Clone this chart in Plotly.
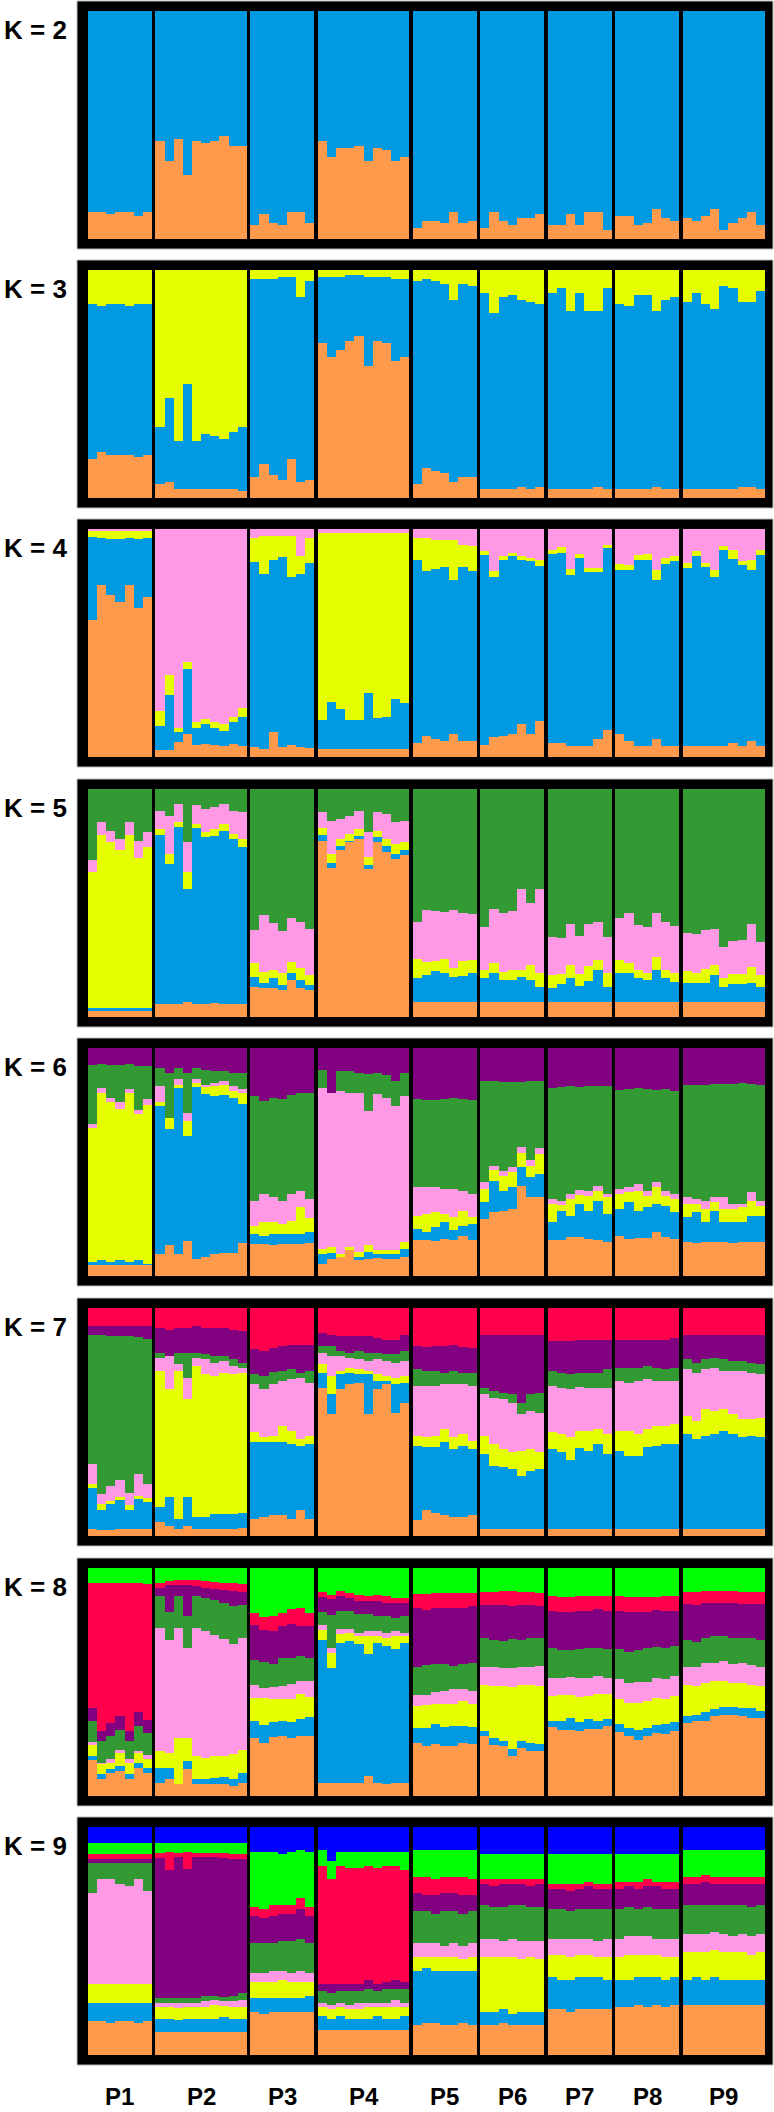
import plotly.graph_objects as go

# ---------------- data ----------------
POPS = ["P1", "P2", "P3", "P4", "P5", "P6", "P7", "P8", "P9"]
N_IND = [7, 10, 7, 10, 7, 7, 7, 7, 9]
K_LABELS = ["K = 2", "K = 3", "K = 4", "K = 5", "K = 6", "K = 7", "K = 8", "K = 9"]

COLORS = {
    "orange": "#FF9A4D", "blue": "#0099E2", "yellow": "#E6FF00", "pink": "#FF99E6",
    "green": "#339933", "purple": "#800080", "red": "#FF004D", "lime": "#00FF00",
    "dblue": "#0000FF",
}

# cluster order listed top -> bottom of each bar
ORDER = {
    2: ["blue", "orange"],
    3: ["yellow", "blue", "orange"],
    4: ["pink", "yellow", "blue", "orange"],
    5: ["green", "pink", "yellow", "blue", "orange"],
    6: ["purple", "green", "pink", "yellow", "blue", "orange"],
    7: ["red", "purple", "green", "pink", "yellow", "blue", "orange"],
    8: ["lime", "red", "purple", "green", "pink", "yellow", "blue", "orange"],
    9: ["dblue", "lime", "red", "purple", "green", "pink", "yellow", "blue", "orange"],
}

# membership estimates per individual (rows follow ORDER; each row is normalised)
K2 = [
    [88, 12], [88, 12], [89, 11], [88, 12], [88, 12], [90, 10], [88, 12],
    [57, 43], [66, 34], [56, 44], [72, 28], [57, 43], [58, 42], [57, 43], [55, 45], [59, 41], [59, 41],
    [94, 6], [89, 11], [93, 7], [94, 6], [88, 12], [88, 12], [93, 7],
    [57, 43], [64, 36], [60, 40], [60, 40], [59, 41], [66, 34], [60, 40], [61, 39], [66, 34], [64, 36],
    [95, 5], [92, 8], [92, 8], [93, 7], [88, 12], [93, 7], [92, 8],
    [95, 5], [88, 12], [92, 8], [94, 6], [91, 9], [91, 9], [89, 11],
    [94, 6], [94, 6], [89, 11], [94, 6], [88, 12], [88, 12], [96, 4],
    [90, 10], [90, 10], [94, 6], [93, 7], [87, 13], [91, 9], [92, 8],
    [91, 9], [92, 8], [90, 10], [87, 13], [96, 4], [93, 7], [91, 9], [88, 12], [94, 6],
]
K3 = [
    [15, 68, 17], [16, 64, 20], [15, 66, 19], [15, 66, 19], [16, 65, 19], [15, 67, 18], [15, 66, 19],
    [69, 25, 6], [56, 37, 7], [75, 21, 4], [50, 46, 4], [75, 21, 4], [72, 24, 4], [73, 23, 4], [74, 22, 4], [71, 25, 4], [69, 28, 3],
    [4, 87, 9], [4, 81, 15], [4, 86, 10], [3, 89, 8], [3, 80, 17], [12, 81, 7], [5, 87, 8],
    [3, 29, 68], [3, 35, 62], [3, 32, 65], [2, 29, 69], [2, 27, 71], [3, 39, 58], [3, 28, 69], [3, 29, 68], [4, 36, 60], [4, 34, 62],
    [5, 89, 6], [4, 83, 13], [5, 83, 12], [6, 83, 11], [13, 80, 7], [6, 85, 9], [7, 84, 9],
    [10, 86, 4], [19, 77, 4], [12, 84, 4], [11, 85, 4], [13, 82, 5], [14, 82, 4], [15, 80, 5],
    [10, 86, 4], [8, 88, 4], [18, 78, 4], [10, 86, 4], [18, 78, 4], [18, 77, 5], [8, 88, 4],
    [15, 81, 4], [16, 80, 4], [11, 85, 4], [11, 85, 4], [18, 77, 5], [13, 83, 4], [12, 84, 4],
    [14, 82, 4], [10, 86, 4], [15, 81, 4], [17, 79, 4], [7, 89, 4], [8, 88, 4], [14, 81, 5], [14, 81, 5], [9, 87, 4],
]
K4 = [
    [7, 18, 250, 411], [7, 20, 140, 519], [7, 22, 171, 486], [7, 22, 190, 467], [7, 20, 140, 519], [7, 24, 206, 449], [7, 20, 178, 481],
    [547, 45, 72, 22], [440, 60, 165, 21], [600, 12, 30, 44], [400, 22, 195, 69], [582, 18, 50, 36], [572, 15, 60, 39], [580, 20, 50, 36], [587, 20, 45, 34], [565, 17, 65, 39], [539, 28, 85, 34],
    [27, 73, 556, 30], [22, 113, 526, 25], [22, 72, 518, 74], [22, 63, 571, 30], [22, 123, 506, 35], [82, 53, 521, 30], [27, 75, 556, 28],
    [12, 563, 86, 25], [12, 507, 142, 25], [12, 530, 119, 25], [12, 563, 86, 25], [12, 563, 86, 25], [12, 482, 167, 25], [12, 558, 91, 25], [12, 555, 94, 25], [12, 500, 149, 25], [12, 512, 137, 25],
    [27, 65, 553, 41], [27, 98, 499, 62], [32, 87, 512, 55], [32, 82, 524, 48], [32, 120, 465, 69], [47, 67, 524, 48], [52, 75, 511, 48],
    [67, 10, 574, 35], [127, 17, 483, 59], [82, 12, 528, 64], [72, 10, 535, 69], [80, 12, 495, 99], [87, 10, 520, 69], [92, 18, 467, 109],
    [62, 12, 571, 41], [54, 18, 573, 41], [120, 17, 515, 34], [75, 12, 565, 34], [117, 13, 522, 34], [117, 13, 501, 55], [47, 10, 547, 82],
    [104, 18, 495, 69], [107, 15, 516, 48], [77, 15, 560, 34], [75, 17, 560, 34], [122, 30, 479, 55], [87, 17, 548, 34], [82, 15, 555, 34],
    [102, 15, 535, 34], [65, 17, 570, 34], [102, 12, 538, 34], [122, 22, 508, 34], [52, 12, 588, 34], [62, 27, 556, 41], [95, 12, 545, 34], [94, 28, 516, 48], [62, 15, 575, 34],
]
K5 = [
    [215, 35, 409, 10, 17], [100, 37, 522, 10, 17], [127, 33, 499, 10, 17], [150, 35, 474, 10, 17], [100, 38, 521, 10, 17], [155, 52, 452, 10, 17], [130, 43, 486, 10, 17],
    [65, 55, 17, 509, 40], [80, 115, 32, 419, 40], [45, 55, 13, 533, 40], [160, 90, 52, 339, 45], [48, 57, 12, 531, 38], [60, 70, 15, 501, 40], [55, 65, 20, 504, 42], [45, 60, 20, 521, 40], [65, 70, 15, 496, 40], [70, 80, 25, 473, 38],
    [423, 100, 44, 28, 91], [380, 170, 35, 15, 86], [403, 142, 25, 30, 86], [427, 128, 35, 15, 81], [387, 133, 35, 20, 111], [400, 138, 37, 25, 86], [420, 140, 30, 15, 81],
    [70, 47, 21, 17, 531], [95, 100, 28, 15, 448], [90, 60, 20, 15, 501], [80, 55, 20, 5, 526], [65, 55, 20, 10, 536], [130, 75, 25, 10, 446], [70, 55, 20, 15, 526], [75, 75, 20, 20, 496], [100, 65, 30, 15, 476], [95, 65, 25, 15, 486],
    [400, 110, 60, 71, 45], [365, 155, 40, 81, 45], [367, 150, 30, 94, 45], [370, 140, 45, 86, 45], [365, 175, 25, 76, 45], [373, 145, 45, 78, 45], [375, 140, 40, 86, 45],
    [415, 130, 25, 71, 45], [360, 165, 30, 86, 45], [373, 177, 25, 66, 45], [367, 178, 30, 66, 45], [300, 245, 20, 76, 45], [342, 188, 45, 66, 45], [300, 255, 40, 46, 45],
    [445, 115, 40, 41, 45], [447, 110, 30, 54, 45], [405, 125, 40, 71, 45], [443, 115, 35, 48, 45], [407, 125, 45, 64, 45], [400, 115, 30, 96, 45], [445, 110, 40, 46, 45],
    [387, 128, 40, 86, 45], [373, 152, 30, 86, 45], [410, 135, 25, 71, 45], [415, 140, 20, 66, 45], [373, 132, 40, 96, 45], [400, 145, 25, 71, 45], [413, 142, 25, 61, 45],
    [433, 115, 35, 58, 45], [435, 120, 30, 56, 45], [423, 120, 40, 58, 45], [420, 110, 30, 81, 45], [475, 95, 25, 46, 45], [458, 100, 30, 53, 45], [453, 105, 30, 53, 45], [405, 130, 50, 56, 45], [460, 100, 35, 46, 45],
]
K6 = [
    [50, 180, 12, 403, 10, 32], [48, 74, 13, 505, 15, 32], [50, 100, 12, 483, 10, 32], [50, 112, 23, 455, 15, 32], [48, 77, 12, 508, 10, 32], [53, 134, 13, 440, 15, 32], [55, 100, 17, 478, 5, 32],
    [60, 55, 47, 12, 447, 65], [75, 135, 0, 35, 350, 92], [60, 33, 17, 10, 502, 65], [75, 120, 25, 45, 317, 105], [60, 33, 12, 13, 519, 50], [65, 45, 8, 22, 490, 57], [70, 35, 10, 30, 477, 65], [70, 30, 12, 30, 476, 69], [75, 40, 15, 20, 468, 69], [75, 50, 10, 35, 417, 100],
    [145, 317, 73, 25, 30, 97], [160, 280, 85, 40, 25, 97], [150, 298, 77, 35, 33, 94], [155, 305, 70, 30, 30, 97], [143, 297, 80, 40, 30, 97], [135, 295, 48, 82, 30, 97], [135, 320, 57, 43, 32, 100],
    [65, 55, 485, 15, 30, 37], [135, 0, 465, 18, 17, 52], [68, 62, 490, 10, 0, 57], [70, 65, 465, 10, 0, 77], [75, 60, 480, 15, 10, 47], [78, 112, 405, 20, 20, 52], [75, 65, 470, 12, 10, 55], [80, 70, 460, 10, 15, 52], [98, 77, 435, 12, 13, 52], [75, 70, 440, 20, 25, 57],
    [155, 265, 85, 40, 35, 107], [157, 263, 80, 55, 25, 107], [158, 262, 75, 45, 43, 104], [155, 270, 75, 25, 52, 110], [150, 275, 85, 38, 32, 107], [155, 275, 60, 45, 30, 122], [157, 283, 70, 20, 50, 107],
    [98, 307, 20, 40, 50, 172], [100, 255, 13, 32, 95, 192], [102, 268, 17, 43, 60, 197], [102, 258, 15, 45, 65, 202], [102, 196, 17, 45, 55, 272], [100, 238, 17, 35, 60, 237], [100, 200, 20, 60, 70, 237],
    [120, 335, 15, 55, 55, 107], [118, 342, 12, 20, 88, 107], [115, 325, 15, 50, 65, 117], [117, 310, 15, 28, 100, 117], [115, 315, 15, 45, 85, 112], [113, 302, 15, 30, 120, 107], [115, 325, 10, 50, 85, 102],
    [128, 297, 15, 45, 82, 120], [125, 295, 15, 30, 110, 112], [122, 288, 20, 60, 82, 115], [125, 305, 15, 35, 92, 115], [128, 277, 15, 50, 85, 132], [125, 305, 15, 30, 95, 117], [130, 310, 15, 40, 80, 112],
    [112, 338, 20, 40, 75, 102], [110, 345, 15, 25, 92, 100], [110, 350, 25, 40, 60, 102], [108, 342, 15, 25, 95, 102], [108, 342, 35, 40, 60, 102], [107, 363, 15, 40, 62, 100], [105, 365, 10, 45, 60, 102], [107, 328, 25, 45, 80, 102], [110, 350, 15, 30, 80, 102],
]
K7 = [
    [55, 27, 388, 60, 13, 122, 22], [55, 25, 480, 30, 20, 60, 17], [55, 30, 450, 48, 7, 80, 17], [55, 30, 432, 53, 10, 85, 22], [55, 30, 472, 38, 15, 55, 22], [55, 33, 412, 65, 10, 90, 22], [55, 38, 437, 43, 12, 80, 22],
    [60, 75, 15, 40, 410, 45, 42], [65, 80, 0, 100, 325, 87, 30], [60, 75, 35, 20, 445, 30, 22], [60, 75, 75, 65, 295, 87, 30], [55, 80, 15, 25, 455, 35, 22], [60, 80, 15, 45, 430, 35, 22], [60, 85, 20, 40, 415, 45, 22], [60, 85, 15, 35, 425, 45, 22], [65, 90, 20, 25, 420, 45, 22], [70, 95, 15, 15, 422, 46, 24],
    [125, 75, 30, 145, 30, 230, 52], [130, 75, 40, 145, 15, 225, 57], [120, 73, 37, 155, 20, 220, 62], [115, 75, 30, 135, 50, 220, 62], [110, 75, 30, 155, 40, 225, 52], [110, 85, 15, 185, 20, 195, 77], [110, 80, 35, 160, 25, 225, 52],
    [75, 40, 20, 35, 25, 45, 447], [80, 35, 30, 60, 55, 60, 367], [85, 45, 15, 45, 10, 45, 442], [85, 50, 15, 30, 15, 35, 457], [85, 45, 25, 30, 15, 25, 462], [85, 50, 25, 30, 10, 120, 367], [90, 45, 20, 45, 20, 25, 442], [95, 45, 20, 45, 15, 10, 457], [95, 45, 25, 45, 20, 85, 372], [80, 50, 30, 45, 20, 60, 402],
    [115, 70, 50, 150, 30, 225, 47], [117, 73, 45, 155, 30, 190, 77], [115, 75, 45, 150, 35, 197, 70], [113, 82, 35, 135, 40, 220, 62], [110, 80, 40, 160, 35, 205, 57], [117, 78, 35, 150, 35, 215, 57], [120, 75, 40, 165, 25, 200, 62],
    [80, 160, 20, 125, 55, 225, 22], [80, 170, 20, 140, 65, 190, 22], [80, 175, 20, 150, 55, 185, 22], [80, 180, 25, 150, 50, 180, 22], [80, 205, 35, 110, 75, 160, 22], [80, 180, 50, 115, 65, 175, 22], [80, 175, 60, 120, 50, 180, 22],
    [100, 90, 45, 140, 50, 240, 22], [100, 95, 45, 140, 55, 230, 22], [98, 100, 45, 145, 70, 207, 22], [97, 100, 40, 135, 50, 243, 22], [95, 100, 45, 130, 60, 235, 22], [95, 100, 45, 125, 45, 255, 22], [95, 90, 55, 140, 60, 225, 22],
    [95, 85, 40, 150, 60, 235, 22], [95, 85, 45, 145, 75, 220, 22], [95, 85, 40, 160, 65, 220, 22], [95, 80, 40, 150, 55, 245, 22], [95, 85, 40, 135, 60, 250, 22], [95, 90, 35, 135, 55, 255, 22], [90, 90, 40, 130, 60, 255, 22],
    [80, 75, 30, 140, 55, 285, 22], [80, 85, 30, 145, 55, 270, 22], [80, 75, 30, 120, 80, 280, 22], [80, 70, 30, 130, 70, 285, 22], [80, 75, 35, 115, 65, 295, 22], [80, 80, 30, 130, 60, 285, 22], [80, 80, 30, 145, 55, 275, 22], [80, 85, 30, 140, 50, 280, 22], [80, 90, 30, 130, 60, 275, 22],
]
K8 = [
    [44, 378, 40, 63, 7, 33, 14, 108], [44, 448, 30, 65, 5, 30, 15, 50], [44, 423, 40, 70, 10, 20, 12, 68], [44, 403, 40, 60, 10, 40, 15, 75], [44, 448, 30, 55, 10, 35, 13, 52], [44, 391, 42, 75, 5, 30, 15, 85], [47, 410, 40, 65, 15, 25, 15, 70],
    [44, 15, 25, 98, 370, 50, 45, 40], [40, 10, 82, 85, 340, 45, 35, 50], [35, 15, 35, 97, 330, 140, 0, 35], [35, 15, 95, 97, 270, 70, 25, 80], [35, 20, 30, 97, 385, 70, 15, 35], [40, 20, 30, 100, 382, 65, 15, 35], [42, 20, 35, 105, 365, 65, 20, 35], [45, 20, 40, 110, 350, 65, 22, 35], [45, 25, 45, 115, 330, 75, 22, 30], [47, 25, 40, 100, 335, 72, 28, 40],
    [137, 35, 105, 75, 40, 70, 50, 175], [147, 40, 95, 80, 30, 80, 55, 160], [145, 45, 100, 70, 35, 70, 45, 177], [135, 40, 95, 85, 40, 65, 45, 182], [125, 45, 100, 80, 45, 70, 47, 175], [120, 55, 90, 75, 40, 75, 50, 182], [135, 40, 95, 70, 50, 60, 55, 182],
    [72, 15, 45, 40, 15, 30, 430, 40], [80, 12, 50, 100, 15, 45, 345, 40], [70, 15, 45, 55, 15, 25, 422, 40], [75, 15, 40, 55, 10, 25, 427, 40], [80, 20, 40, 55, 10, 25, 417, 40], [85, 15, 40, 50, 15, 55, 367, 60], [80, 20, 45, 45, 15, 20, 422, 40], [85, 20, 40, 50, 15, 25, 417, 35], [90, 15, 45, 40, 15, 40, 402, 40], [90, 15, 40, 50, 10, 20, 422, 40],
    [77, 45, 175, 85, 35, 65, 45, 160], [77, 50, 165, 90, 30, 70, 55, 150], [75, 45, 170, 85, 35, 60, 60, 157], [75, 45, 170, 80, 40, 70, 55, 152], [75, 45, 175, 70, 45, 65, 60, 152], [75, 45, 170, 75, 35, 75, 52, 160], [75, 40, 170, 85, 40, 70, 50, 157],
    [72, 40, 100, 85, 55, 140, 15, 180], [72, 40, 105, 80, 60, 155, 20, 155], [70, 42, 108, 80, 55, 165, 15, 152], [70, 45, 100, 85, 60, 185, 20, 122], [72, 40, 105, 80, 55, 170, 20, 145], [72, 40, 100, 85, 55, 175, 25, 135], [75, 40, 95, 85, 60, 175, 20, 137],
    [85, 45, 110, 90, 55, 75, 20, 207], [87, 45, 115, 85, 50, 80, 25, 200], [87, 45, 115, 80, 55, 70, 35, 200], [85, 45, 115, 85, 60, 75, 25, 197], [85, 45, 110, 90, 55, 70, 30, 202], [85, 40, 115, 85, 55, 80, 25, 202], [85, 45, 115, 85, 50, 75, 20, 212],
    [85, 45, 115, 90, 60, 75, 25, 192], [87, 45, 120, 95, 60, 75, 25, 180], [87, 45, 115, 95, 65, 80, 30, 170], [87, 45, 110, 100, 60, 80, 25, 180], [87, 40, 110, 95, 60, 80, 25, 190], [85, 45, 110, 95, 60, 75, 30, 187], [85, 45, 105, 90, 60, 80, 25, 197],
    [72, 35, 110, 80, 55, 95, 20, 220], [72, 40, 110, 75, 60, 85, 20, 225], [70, 35, 105, 75, 60, 90, 25, 227], [70, 35, 100, 80, 55, 85, 22, 240], [70, 35, 100, 75, 60, 80, 22, 245], [70, 35, 105, 80, 55, 75, 22, 245], [72, 35, 105, 75, 60, 75, 25, 240], [72, 35, 105, 80, 60, 70, 30, 235], [72, 35, 110, 80, 60, 75, 20, 235],
]
K9 = [
    [7, 5, 2, 2, 13, 40, 8, 8, 15], [7, 5, 2, 2, 7, 46, 8, 8, 15], [7, 5, 2, 2, 7, 46, 8, 9, 14], [7, 5, 2, 2, 9, 44, 8, 8, 15], [7, 5, 2, 2, 10, 43, 8, 8, 15], [7, 5, 2, 2, 7, 46, 8, 9, 14], [7, 5, 2, 2, 12, 41, 8, 8, 15],
    [7, 4.5, 2, 61.5, 2, 2, 5, 6, 10], [7, 4, 8, 56, 2, 2, 5, 6, 10], [7, 4.5, 1.5, 62, 2, 2.5, 5, 5.5, 10], [7, 4, 7.5, 56.5, 2, 2, 5, 6, 10], [7, 4.5, 1.5, 62, 2, 2, 5, 6, 10], [7, 4.5, 1.5, 61, 2.5, 2.5, 5, 6, 10], [7, 4.5, 1.5, 61, 2, 2, 6, 6, 10], [7, 4.5, 2, 61, 2, 2, 5, 6.5, 10], [7, 5, 2, 60, 2.5, 2.5, 5, 6, 10], [7, 5, 2, 59, 3, 3, 5, 6, 10],
    [11, 24, 4, 12, 13, 4, 7, 6, 19], [11, 25, 4, 11, 13, 4, 7, 7, 18], [11, 23, 5, 12, 12, 5, 7, 6, 19], [12, 22, 4, 12, 13, 4, 8, 6, 19], [11, 23, 4, 12, 14, 4, 7, 6, 19], [10, 21, 5, 13, 14, 5, 7, 6, 19], [11, 24, 4, 12, 13, 4, 6, 7, 19],
    [10, 7, 52, 3, 5, 2, 4, 6, 11], [15, 8, 46, 4, 5, 2, 4, 5, 11], [11, 6, 52, 3, 5, 2, 4, 6, 11], [11, 7, 51, 3, 6, 2, 4, 5, 11], [11, 7, 51, 3, 5, 3, 4, 5, 11], [11, 6, 50, 4, 6, 2, 5, 5, 11], [11, 7, 51, 3, 5, 2, 4, 6, 11], [11, 6, 51, 3, 6, 2, 5, 5, 11], [11, 6, 50, 4, 5, 3, 5, 5, 11], [11, 8, 49, 3, 6, 2, 4, 6, 11],
    [10, 12, 7, 8, 14, 6, 6, 24, 13], [10, 12, 8, 7, 14, 6, 5, 24, 14], [10, 13, 7, 8, 13, 6, 6, 23, 14], [10, 12, 7, 8, 15, 5, 6, 24, 13], [10, 12, 7, 8, 14, 6, 6, 24, 13], [10, 12, 8, 8, 14, 6, 5, 23, 14], [10, 13, 7, 7, 14, 6, 6, 24, 13],
    [12, 11, 2, 9, 15, 8, 24, 6, 13], [12, 11, 3, 9, 14, 8, 24, 6, 13], [12, 11, 2, 10, 15, 7, 23, 6, 14], [12, 11, 2, 9, 15, 8, 25, 5, 13], [12, 11, 2, 9, 16, 8, 23, 6, 13], [12, 11, 3, 9, 15, 7, 24, 6, 13], [12, 11, 2, 10, 15, 8, 23, 6, 13],
    [12, 13, 2, 9, 13, 7, 10, 14, 20], [12, 13, 2, 9, 13, 7, 11, 13, 20], [12, 13, 3, 9, 12, 8, 10, 14, 19], [12, 13, 2, 9, 13, 7, 10, 14, 20], [12, 12, 2, 10, 13, 7, 10, 14, 20], [12, 13, 2, 9, 14, 7, 9, 14, 20], [12, 13, 2, 9, 13, 8, 10, 13, 20],
    [12, 12, 3, 9, 13, 8, 10, 12, 21], [12, 12, 2, 9, 13, 8, 11, 12, 21], [12, 12, 3, 9, 12, 8, 10, 12, 22], [12, 11, 3, 9, 13, 8, 10, 13, 21], [12, 12, 2, 10, 13, 7, 10, 12, 22], [12, 12, 3, 9, 13, 8, 10, 12, 21], [12, 12, 3, 9, 13, 8, 9, 12, 22],
    [10, 12, 3, 9, 13, 8, 12, 11, 22], [10, 12, 3, 9, 13, 8, 11, 12, 22], [10, 11, 3, 10, 13, 8, 12, 11, 22], [10, 12, 3, 9, 12, 8, 12, 12, 22], [10, 12, 3, 9, 13, 8, 12, 11, 22], [10, 12, 3, 9, 14, 7, 12, 11, 22], [10, 12, 3, 9, 13, 8, 12, 11, 22], [10, 12, 3, 10, 13, 8, 11, 11, 22], [10, 12, 3, 9, 13, 8, 12, 11, 22],
]
K_DATA = {2: K2, 3: K3, 4: K4, 5: K5, 6: K6, 7: K7, 8: K8, 9: K9}

# ---------------- layout geometry ----------------
W, H = 774, 2112
PANEL_TOPS = [1, 260, 519, 779, 1038, 1298, 1558, 1817]   # px, outer frame top
PANEL_H = 248
FRAME_PX = 10
GAP = 0.39          # separator between populations, in bar widths
LEFT_PAD, RIGHT_PAD = 1.2, 0.88

xpos, pop_centers = [], []
cursor = 0.0
for p, n in enumerate(N_IND):
    start = cursor
    for i in range(n):
        xpos.append(cursor + 0.5)
        cursor += 1
    pop_centers.append((start + cursor) / 2)
    cursor += GAP
total = cursor - GAP
xrange = [-LEFT_PAD, total + RIGHT_PAD]
ypad = FRAME_PX / (PANEL_H - 2 * FRAME_PX)

fig = go.Figure()
layout = dict(
    width=W, height=H, margin=dict(l=0, r=0, t=0, b=0),
    paper_bgcolor="white", plot_bgcolor="black",
    barmode="stack", bargap=0, showlegend=False,
)

FONT = "Liberation Sans, Arial, sans-serif"
annotations = []
shapes = []
for k_idx, K in enumerate(range(2, 10)):
    s = "" if k_idx == 0 else str(k_idx + 1)
    rows = K_DATA[K]
    order = ORDER[K]
    norm = [[v / sum(r) for v in r] for r in rows]
    # draw bottom -> top
    for c in reversed(range(len(order))):
        fig.add_trace(go.Bar(
            x=xpos, y=[r[c] for r in norm], width=1,
            marker=dict(color=COLORS[order[c]], line=dict(width=0)),
            xaxis="x" + s, yaxis="y" + s, hoverinfo="skip",
        ))
    top = PANEL_TOPS[k_idx]
    layout["xaxis" + s] = dict(domain=[77 / W, 773 / W], range=xrange, visible=False,
                               fixedrange=True, anchor="y" + s)
    layout["yaxis" + s] = dict(domain=[1 - (top + PANEL_H) / H, 1 - top / H],
                               range=[-ypad, 1 + ypad], visible=False,
                               fixedrange=True, anchor="x" + s)
    shapes.append(dict(type="rect", xref="x" + s + " domain", yref="y" + s + " domain",
                       x0=0, x1=1, y0=0, y1=1, line=dict(color="#B8B8B8", width=1),
                       fillcolor="rgba(0,0,0,0)", layer="above"))
    annotations.append(dict(
        text="<b>" + K_LABELS[k_idx] + "</b>", xref="paper", yref="paper",
        x=2 / W, y=1 - (top + 29) / H, xanchor="left", yanchor="middle",
        showarrow=False, font=dict(family=FONT, size=26, color="black"),
    ))

for p, name in enumerate(POPS):
    annotations.append(dict(
        text="<b>" + name + "</b>", xref="x8", yref="paper",
        x=pop_centers[p], y=0, xanchor="center", yanchor="bottom",
        showarrow=False, font=dict(family=FONT, size=24, color="black"),
    ))

layout["annotations"] = annotations
layout["shapes"] = shapes
fig.update_layout(**layout)
fig.write_html("out.html",
               config={"displayModeBar": False, "staticPlot": True},
               post_script="document.body.style.margin='0px'; document.body.style.padding='0px';")
